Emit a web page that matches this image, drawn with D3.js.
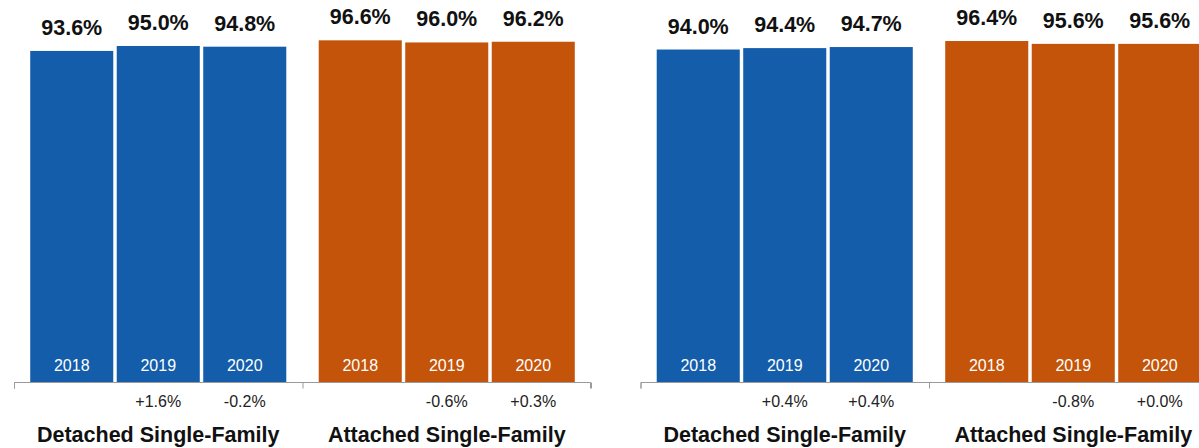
<!DOCTYPE html>
<html>
<head>
<meta charset="utf-8">
<script src="https://cdn.jsdelivr.net/npm/d3@7"></script>
<style>
  html, body { margin: 0; padding: 0; background: #fff; overflow: hidden; }
  svg { display: block; font-family: "Liberation Sans", Arial, Helvetica, sans-serif; }
</style>
</head>
<body>
<svg id="chart" width="1199" height="448"></svg>
<script>
// Occupancy rates by housing type, two panels side by side
const years = ["2018", "2019", "2020"];
const groups = ["Detached Single-Family", "Attached Single-Family"];

const leftDetached = [93.6, 95.0, 94.8];
const leftAttached = [96.6, 96.0, 96.2];
const leftDetachedChange = ["", "+1.6%", "-0.2%"];
const leftAttachedChange = ["", "-0.6%", "+0.3%"];

const rightDetached = [94.0, 94.4, 94.7];
const rightAttached = [96.4, 95.6, 95.6];
const rightDetachedChange = ["", "+0.4%", "+0.4%"];
const rightAttachedChange = ["", "-0.8%", "+0.0%"];

const colors = { "Detached Single-Family": "#135DAB", "Attached Single-Family": "#C4540A" };

const panels = [
  { x: 14, series: [leftDetached, leftAttached], changes: [leftDetachedChange, leftAttachedChange] },
  { x: 640.5, series: [rightDetached, rightAttached], changes: [rightDetachedChange, rightAttachedChange] }
];

const svg = d3.select("#chart");
const baseY = 382;
const groupWidth = 288.5;

const y = d3.scaleLinear().domain([0, 100]).range([baseY, baseY - 353.7]);
const xGroup = d3.scaleBand().domain(groups).range([0, groupWidth * groups.length]).padding(0);
const xYear = d3.scaleBand().domain(years).range([0, groupWidth]).paddingInner(0.04).paddingOuter(0.1875);

panels.forEach(p => {
  const g = svg.append("g").attr("transform", `translate(${p.x},0)`);

  // baseline axis with ticks at group boundaries
  const axisScale = d3.scaleLinear().domain([0, groups.length]).range([0, groupWidth * groups.length]);
  const axis = d3.axisBottom(axisScale).ticks(groups.length).tickSize(6).tickFormat("").tickSizeOuter(6);
  const ax = g.append("g").attr("transform", `translate(0,${baseY + 0.5})`).call(axis);
  ax.selectAll("path, line").attr("stroke", "#9a9a9a").attr("stroke-width", 1);
  ax.select(".domain").attr("d", `M0.5,6V0H${groupWidth * groups.length - 0.5}V6`);

  groups.forEach((grp, gi) => {
    const gg = g.append("g").attr("transform", `translate(${xGroup(grp)},0)`);
    const vals = p.series[gi];
    const chg = p.changes[gi];
    const rows = years.map((yr, i) => ({ yr, v: vals[i], c: chg[i] }));

    gg.selectAll("rect").data(rows).join("rect")
      .attr("x", d => xYear(d.yr))
      .attr("width", xYear.bandwidth())
      .attr("y", d => y(d.v))
      .attr("height", d => baseY - y(d.v))
      .attr("fill", colors[grp]);

    gg.selectAll("text.val").data(rows).join("text").attr("class", "val")
      .attr("x", d => xYear(d.yr) + xYear.bandwidth() / 2)
      .attr("y", d => y(d.v) - 16)
      .attr("text-anchor", "middle")
      .attr("font-size", "21.5px").attr("font-weight", "bold").attr("fill", "#111")
      .text(d => d.v.toFixed(1) + "%");

    gg.selectAll("text.yr").data(rows).join("text").attr("class", "yr")
      .attr("x", d => xYear(d.yr) + xYear.bandwidth() / 2)
      .attr("y", baseY - 11.5)
      .attr("text-anchor", "middle")
      .attr("font-size", "16px").attr("fill", "#fff")
      .text(d => d.yr);

    gg.selectAll("text.chg").data(rows).join("text").attr("class", "chg")
      .attr("x", d => xYear(d.yr) + xYear.bandwidth() / 2)
      .attr("y", 407)
      .attr("text-anchor", "middle")
      .attr("font-size", "16px").attr("fill", "#222")
      .text(d => d.c);

    gg.append("text")
      .attr("x", groupWidth / 2)
      .attr("y", 441.5)
      .attr("text-anchor", "middle")
      .attr("font-size", "21.5px").attr("font-weight", "bold").attr("fill", "#111")
      .text(grp);
  });
});
</script>
</body>
</html>
